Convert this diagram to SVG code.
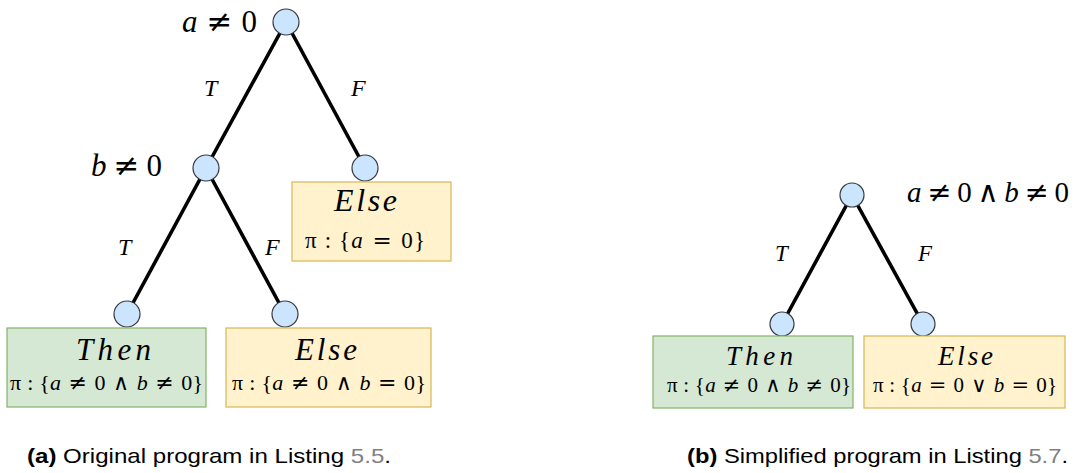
<svg xmlns="http://www.w3.org/2000/svg" width="1076" height="473" viewBox="0 0 1076 473">
<style>
.node{fill:#cce5ff;stroke:#36393d;stroke-width:1.2}
.edge{stroke:#000;stroke-width:3.6;fill:none}
.then{fill:#d5e8d4;stroke:#82b366;stroke-width:1.2}
.else{fill:#fff2cc;stroke:#d6b656;stroke-width:1.2}
.m{font-family:"Liberation Serif","DejaVu Serif",serif;fill:#000}
.i{font-style:italic}
.op{font-family:"DejaVu Serif",serif;font-style:normal}
.cap{font-family:"Liberation Sans",Arial,sans-serif;font-size:21px;fill:#000}
.num{fill:#808080}
</style>
<rect width="1076" height="473" fill="#fff"/>
<g id="connectors">
<line class="edge" x1="286" y1="22" x2="206" y2="168"/>
<line class="edge" x1="286" y1="22" x2="365" y2="168"/>
<line class="edge" x1="206" y1="168" x2="127" y2="314"/>
<line class="edge" x1="206" y1="168" x2="285" y2="314"/>
<line class="edge" x1="852" y1="195" x2="782" y2="324"/>
<line class="edge" x1="852" y1="195" x2="923" y2="324"/>
<text class="m i" x="204" y="96" font-size="24">T</text>
<text class="m i" x="351" y="96" font-size="24">F</text>
<text class="m i" x="118" y="255" font-size="24">T</text>
<text class="m i" x="265" y="255" font-size="24">F</text>
<text class="m i" x="775" y="261" font-size="23">T</text>
<text class="m i" x="918" y="261" font-size="23">F</text>
</g>
<g id="n_a">
<circle class="node" cx="286" cy="22" r="13"/>
<text class="m" x="182" y="32" font-size="31" textLength="75"><tspan class="i">a</tspan><tspan class="op"> ≠ </tspan>0</text>
</g>
<g id="n_b">
<circle class="node" cx="206" cy="168" r="13"/>
<text class="m" x="91" y="176" font-size="31" textLength="71"><tspan class="i">b</tspan><tspan class="op"> ≠ </tspan>0</text>
</g>
<g id="n_else1">
<circle class="node" cx="365" cy="168" r="13"/>
<rect class="else" x="292" y="182" width="159" height="79"/>
<text class="m i" x="334" y="211" font-size="32" textLength="63">Else</text>
<text class="m" x="305" y="248" font-size="23" textLength="120">π : {<tspan class="i">a</tspan><tspan class="op"> = </tspan>0}</text>
</g>
<g id="n_then1">
<circle class="node" cx="127" cy="314" r="13"/>
<rect class="then" x="7" y="328" width="199" height="79"/>
<text class="m i" x="76" y="360" font-size="31" textLength="75">Then</text>
<text class="m" x="10" y="390" font-size="22" textLength="193">π : {<tspan class="i">a</tspan><tspan class="op"> ≠ </tspan>0<tspan class="op"> ∧ </tspan><tspan class="i">b</tspan><tspan class="op"> ≠ </tspan>0}</text>
</g>
<g id="n_else2">
<circle class="node" cx="285" cy="314" r="13"/>
<rect class="else" x="226" y="328" width="205" height="79"/>
<text class="m i" x="295" y="360" font-size="31" textLength="62">Else</text>
<text class="m" x="232" y="390" font-size="22" textLength="194">π : {<tspan class="i">a</tspan><tspan class="op"> ≠ </tspan>0<tspan class="op"> ∧ </tspan><tspan class="i">b</tspan><tspan class="op"> = </tspan>0}</text>
</g>
<g id="n_root2">
<circle class="node" cx="852" cy="195" r="12"/>
<text class="m" x="907" y="202" font-size="29" textLength="162"><tspan class="i">a</tspan><tspan class="op"> ≠ </tspan>0<tspan class="op"> ∧ </tspan><tspan class="i">b</tspan><tspan class="op"> ≠ </tspan>0</text>
</g>
<g id="n_then2">
<circle class="node" cx="782" cy="324" r="12"/>
<rect class="then" x="653" y="336" width="200" height="72"/>
<text class="m i" x="726" y="365" font-size="27" textLength="67">Then</text>
<text class="m" x="667" y="392" font-size="21" textLength="184">π : {<tspan class="i">a</tspan><tspan class="op"> ≠ </tspan>0<tspan class="op"> ∧ </tspan><tspan class="i">b</tspan><tspan class="op"> ≠ </tspan>0}</text>
</g>
<g id="n_else3">
<circle class="node" cx="923" cy="324" r="12"/>
<rect class="else" x="864" y="336" width="201" height="72"/>
<text class="m i" x="938" y="365" font-size="27" textLength="55">Else</text>
<text class="m" x="873" y="392" font-size="21" textLength="184">π : {<tspan class="i">a</tspan><tspan class="op"> = </tspan>0<tspan class="op"> ∨ </tspan><tspan class="i">b</tspan><tspan class="op"> = </tspan>0}</text>
</g>
<g id="captions">
<text class="cap" x="27" y="463" textLength="364" lengthAdjust="spacingAndGlyphs"><tspan font-weight="bold">(a)</tspan> Original program in Listing <tspan class="num">5.5</tspan>.</text>
<text class="cap" x="687" y="463" textLength="381" lengthAdjust="spacingAndGlyphs"><tspan font-weight="bold">(b)</tspan> Simplified program in Listing <tspan class="num">5.7</tspan>.</text>
</g>
</svg>
